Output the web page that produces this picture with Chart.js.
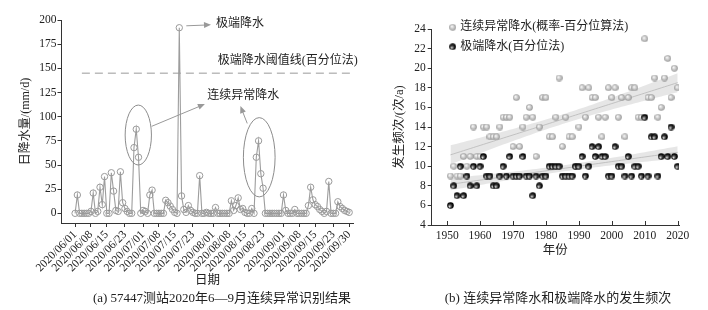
<!DOCTYPE html>
<html>
<head>
<meta charset="utf-8">
<script src="https://cdn.jsdelivr.net/npm/chart.js@4.4.1/dist/chart.umd.min.js"></script>
<style>
  body { margin: 0; background: #fff; }
  #wrap { position: relative; width: 708px; height: 310px; }
  #left { position: absolute; left: 0; top: 0; }
  #right { position: absolute; left: 360px; top: 0; }
  .cap { position: absolute; top: 289px; line-height: 18px; font-size: 13px; font-family: "Liberation Serif", "Noto Sans CJK SC"; color: #222; white-space: nowrap; transform: translateX(-50%); }
</style>
</head>
<body>
<div id="wrap">
  <canvas id="left" width="360" height="310"></canvas>
  <canvas id="right" width="348" height="310"></canvas>
  <div class="cap" style="left:222px">(a) 57447测站2020年6—9月连续异常识别结果</div>
  <div class="cap" style="left:558px">(b) 连续异常降水和极端降水的发生频次</div>
</div>
<script>
// ---- (a) daily precipitation at station 57447, 2020-06-01 .. 2020-09-30 (day index 0..121)
const rain = [
  0, 19, 0, 0, 0, 0, 0, 2, 21, 0,
  2, 27, 9, 38, 0, 0, 42, 23, 3, 2,
  43, 11, 5, 2, 0, 0, 68, 87, 58, 0,
  3, 2, 0, 19, 24, 0, 0, 0, 0, 0,
  13.5, 11, 7.5, 4, 1, 0, 192, 18, 4, 1,
  8, 3, 1, 0, 0, 39, 0, 0, 1, 0,
  0, 0, 6, 0, 0, 0, 0, 0, 0, 13,
  3, 8, 16, 4, 5, 1, 0, 0, 5, 0,
  58, 75, 41, 26, 0, 0, 0, 0, 0, 0,
  0, 0, 19, 3, 0, 0, 0, 4, 0, 0,
  0, 0, 0, 8, 27, 14, 9, 7, 4, 2,
  0, 2, 33, 0, 0, 0, 12, 7, 5, 3,
  2, 1
];
const dateTickDays = [0, 7, 14, 22, 30, 37, 44, 52, 61, 68, 75, 83, 92, 99, 106, 114, 121];
const dateTickLabels = ['2020/06/01', '2020/06/08', '2020/06/15', '2020/06/23', '2020/07/01', '2020/07/08',
  '2020/07/15', '2020/07/23', '2020/08/01', '2020/08/08', '2020/08/15', '2020/08/23', '2020/09/01',
  '2020/09/08', '2020/09/15', '2020/09/23', '2020/09/30'];
const rainTicks = [0, 25, 50, 75, 100, 125, 150, 175, 200];
const threshold = 145;

// ---- (b) yearly frequency 1951..2020
const years = Array.from({ length: 70 }, (_, i) => 1951 + i);
const contAnom = [
  9, 10, 9, 9, 11, 10, 11, 14, 11, 11,
  14, 14, 13, 13, 13, 14, 15, 15, 15, 12,
  17, 12, 14, 15, 16, 15, 11, 14, 17, 17,
  13, 13, 15, 19, 12, 15, 13, 13, 10, 14,
  18, 15, 18, 17, 17, 15, 13, 15, 18, 17,
  18, 15, 17, 13, 17, 18, 18, 15, 15, 23,
  17, 17, 19, 15, 16, 19, 21, 17, 20, 18
];
const extreme = [
  6, 8, 7, 10, 7, 9, 8, 10, 8, 10,
  11, 9, 9, 8, 8, 9, 10, 9, 11, 9,
  9, 9, 11, 9, 9, 7, 9, 8, 9, 9,
  10, 10, 10, 10, 9, 9, 9, 9, 10, 10,
  11, 9, 10, 12, 11, 12, 11, 11, 9, 9,
  12, 10, 10, 9, 11, 9, 10, 10, 9, 15,
  9, 13, 13, 9, 11, 13, 11, 14, 11, 10
];
const seriesNames = ['连续异常降水(概率-百分位算法)', '极端降水(百分位法)'];
const yearTicks = [1950, 1960, 1970, 1980, 1990, 2000, 2010, 2020];

const serif = '"Liberation Serif", "Noto Sans CJK SC"';
Chart.defaults.font.family = serif;
Chart.defaults.color = '#222';

// annotation placement for panel (a), in data units
const notes = {
  thresholdFrom: 3,
  ellipses: [{ x: 27.9, y: 81, rx: 5.8, ry: 31 }, { x: 81.3, y: 58, rx: 7.0, ry: 41 }],
  arrows: [[49.1, 194, 60, 195], [33.8, 90, 57.3, 113], [76, 93, 73, 111]],
  texts: [['极端降水', 62.2, 196], ['极端降水阈值线(百分位法)', 63, 158], ['连续异常降水', 58.3, 122]]
};

function drawArrow(ctx, x1, y1, x2, y2) {
  const a = Math.atan2(y2 - y1, x2 - x1);
  const len = 7, w = 3;
  ctx.beginPath(); ctx.moveTo(x1, y1); ctx.lineTo(x2 - Math.cos(a) * len * 0.6, y2 - Math.sin(a) * len * 0.6); ctx.stroke();
  ctx.beginPath();
  ctx.moveTo(x2, y2);
  ctx.lineTo(x2 - Math.cos(a) * len - Math.sin(a) * w, y2 - Math.sin(a) * len + Math.cos(a) * w);
  ctx.lineTo(x2 - Math.cos(a) * len + Math.sin(a) * w, y2 - Math.sin(a) * len - Math.cos(a) * w);
  ctx.closePath(); ctx.fill();
}

const notesPlugin = {
  id: 'notes',
  afterDatasetsDraw(chart) {
    const { ctx, chartArea, scales: { x, y } } = chart;
    const px = v => x.getPixelForValue(v), py = v => y.getPixelForValue(v);
    ctx.save();
    ctx.strokeStyle = '#9a9a9a'; ctx.lineWidth = 1; ctx.setLineDash([8, 5]);
    ctx.beginPath();
    ctx.moveTo(px(notes.thresholdFrom), py(threshold));
    ctx.lineTo(chartArea.right, py(threshold));
    ctx.stroke();
    ctx.setLineDash([]);
    ctx.strokeStyle = '#8c8c8c';
    notes.ellipses.forEach(e => {
      ctx.beginPath();
      ctx.ellipse(px(e.x), py(e.y), px(e.x + e.rx) - px(e.x), py(e.y) - py(e.y + e.ry), 0, 0, Math.PI * 2);
      ctx.stroke();
    });
    ctx.strokeStyle = '#999'; ctx.fillStyle = '#999';
    notes.arrows.forEach(a => drawArrow(ctx, px(a[0]), py(a[1]), px(a[2]), py(a[3])));
    ctx.fillStyle = '#222'; ctx.font = '12px ' + serif; ctx.textBaseline = 'middle';
    notes.texts.forEach(t => ctx.fillText(t[0], px(t[1]), py(t[2])));
    ctx.restore();
  }
};

new Chart(document.getElementById('left'), {
  type: 'line',
  data: {
    datasets: [{
      data: rain.map((v, i) => ({ x: i, y: v })),
      borderColor: '#9d9d9d',
      borderWidth: 1.1,
      pointRadius: 3.2,
      pointBorderWidth: 1,
      pointBorderColor: '#9a9a9a',
      pointBackgroundColor: 'rgba(255,255,255,0)',
      tension: 0
    }]
  },
  options: {
    responsive: false,
    animation: false,
    devicePixelRatio: 1,
    layout: { padding: { top: 20, right: 2, left: 0, bottom: 0 } },
    plugins: { legend: { display: false }, tooltip: { enabled: false } },
    scales: {
      x: {
        type: 'linear', min: -6, max: 123,
        afterBuildTicks: s => { s.ticks = dateTickDays.map(v => ({ value: v })); },
        afterFit: s => { s.height = 87; },
        ticks: {
          autoSkip: false, minRotation: 45, maxRotation: 45, padding: 1,
          font: { size: 11.5 },
          callback: v => dateTickLabels[dateTickDays.indexOf(v)]
        },
        grid: { drawOnChartArea: false, tickLength: 4, color: '#333' },
        border: { color: '#333' },
        title: { display: true, text: '日期', font: { size: 12.5 }, padding: { top: 0, bottom: 22 } }
      },
      y: {
        min: -10, max: 200,
        afterBuildTicks: s => { s.ticks = rainTicks.map(v => ({ value: v })); },
        afterFit: s => { s.width = 61.5; },
        ticks: { padding: 1, font: { size: 11.5 } },
        grid: { drawOnChartArea: false, tickLength: 4, color: '#333' },
        border: { color: '#333' },
        title: { display: true, text: '日降水量/(mm/d)', font: { size: 12 }, padding: { top: 19, bottom: 0 } }
      }
    }
  },
  plugins: [notesPlugin]
});

// ---- panel (b)
function makeBall(dark) {
  const c = document.createElement('canvas');
  c.width = c.height = 7;
  const g = c.getContext('2d');
  const grad = dark ? g.createRadialGradient(2.3, 4.9, 0.2, 3.5, 3.5, 3.3)
                    : g.createRadialGradient(2.5, 2.5, 0.2, 3.5, 3.5, 3.3);
  if (dark) {
    grad.addColorStop(0, '#f6f6f6'); grad.addColorStop(0.35, '#666'); grad.addColorStop(0.7, '#111'); grad.addColorStop(1, '#000');
  } else {
    grad.addColorStop(0, '#fbfbfb'); grad.addColorStop(0.6, '#c4c4c4'); grad.addColorStop(1, '#939393');
  }
  g.fillStyle = grad;
  g.beginPath(); g.arc(3.5, 3.5, 3.3, 0, Math.PI * 2); g.fill();
  return c;
}
const grayBall = makeBall(false), blackBall = makeBall(true);

function trend(xs, ys) {
  const n = xs.length;
  const mx = xs.reduce((a, b) => a + b) / n, my = ys.reduce((a, b) => a + b) / n;
  let sxx = 0, sxy = 0;
  xs.forEach((x, i) => { sxx += (x - mx) ** 2; sxy += (x - mx) * (ys[i] - my); });
  const b = sxy / sxx, a = my - b * mx;
  let sse = 0;
  xs.forEach((x, i) => { sse += (ys[i] - a - b * x) ** 2; });
  const s = Math.sqrt(sse / (n - 2)), t = 1.995;
  return xs.map(x => {
    const yh = a + b * x, h = t * s * Math.sqrt(1 / n + (x - mx) ** 2 / sxx);
    return { x, yh, lo: yh - h, hi: yh + h };
  });
}

function bandSets(fitRows) {
  return [
    { type: 'line', data: fitRows.map(r => ({ x: r.x, y: r.hi })), borderWidth: 0, pointRadius: 0, fill: false, order: 10 },
    { type: 'line', data: fitRows.map(r => ({ x: r.x, y: r.lo })), borderWidth: 0, pointRadius: 0,
      fill: '-1', backgroundColor: 'rgba(195,195,195,0.42)', order: 10 },
    { type: 'line', data: fitRows.map(r => ({ x: r.x, y: r.yh })), borderWidth: 0.8, borderColor: '#b8b8b8',
      pointRadius: 0, fill: false, order: 9 }
  ];
}

const legendPlugin = {
  id: 'legendBalls',
  afterDraw(chart) {
    const { ctx, chartArea: ca, scales: { x } } = chart;
    ctx.save();
    ctx.strokeStyle = '#333'; ctx.lineWidth = 1;
    yearTicks.forEach(v => {
      const p = Math.round(x.getPixelForValue(v)) + 0.5;
      ctx.beginPath(); ctx.moveTo(p, ca.bottom); ctx.lineTo(p, ca.bottom - 4); ctx.stroke();
    });
    ctx.font = '12px ' + serif; ctx.fillStyle = '#222'; ctx.textBaseline = 'middle';
    [grayBall, blackBall].forEach((img, i) => {
      const yy = ca.top - 1.7 + i * 19.4;
      ctx.drawImage(img, ca.left + 21 - 3.5, yy - 3.5);
      ctx.fillText(seriesNames[i], ca.left + 28.5, yy);
    });
    ctx.restore();
  }
};

new Chart(document.getElementById('right'), {
  type: 'scatter',
  data: {
    datasets: [
      ...bandSets(trend(years, contAnom)),
      ...bandSets(trend(years, extreme)),
      { label: seriesNames[0], data: years.map((yr, i) => ({ x: yr, y: contAnom[i] })), pointStyle: grayBall, order: 2 },
      { label: seriesNames[1], data: years.map((yr, i) => ({ x: yr, y: extreme[i] })), pointStyle: blackBall, order: 1 }
    ]
  },
  options: {
    responsive: false,
    animation: false,
    devicePixelRatio: 1,
    layout: { padding: { top: 29, right: 29, left: 0, bottom: 0 } },
    plugins: { legend: { display: false }, tooltip: { enabled: false } },
    scales: {
      x: {
        type: 'linear', min: 1945.3, max: 2020.4,
        afterBuildTicks: s => { s.ticks = yearTicks.map(v => ({ value: v })); },
        afterFit: s => { s.height = 85; },
        ticks: { padding: 4, font: { size: 11.5 }, callback: v => String(v) },
        grid: { display: false, drawTicks: false },
        border: { color: '#333' },
        title: { display: true, text: '年份', font: { size: 12.5 }, padding: { top: 0, bottom: 52 } }
      },
      y: {
        min: 4, max: 24,
        afterFit: s => { s.width = 71.7; },
        ticks: { stepSize: 2, padding: 2, font: { size: 11.5 } },
        grid: { drawOnChartArea: false, tickLength: 4, color: '#333' },
        border: { color: '#333' },
        title: { display: true, text: '发生频次/(次/a)', font: { size: 12.5 }, padding: { top: 32, bottom: 0 } }
      }
    }
  },
  plugins: [legendPlugin]
});
</script>
</body>
</html>
